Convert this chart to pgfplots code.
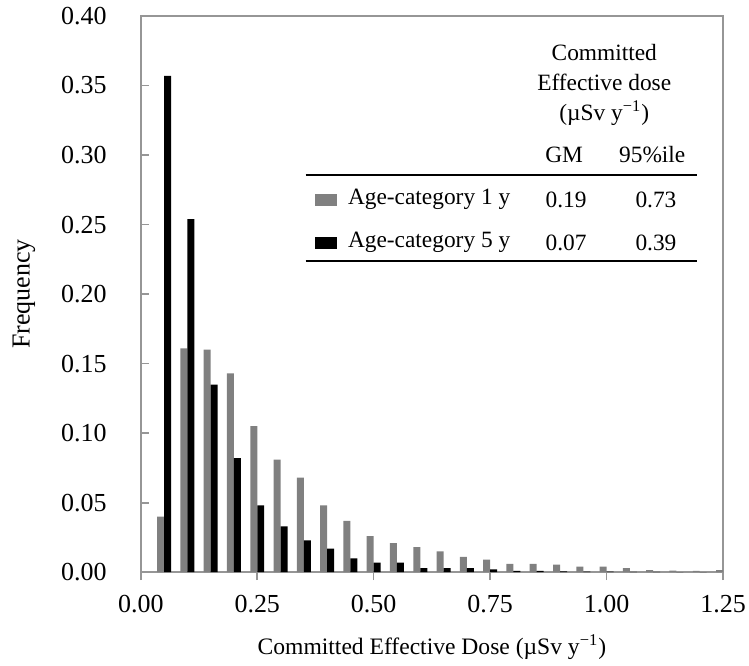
\documentclass[border=0pt]{standalone}
\usepackage{fontspec}
\setmainfont{Liberation Serif}
\usepackage{pgfplots}
\pgfplotsset{compat=1.18}
\definecolor{axgray}{RGB}{150,150,150}
\definecolor{bargray}{RGB}{128,128,128}
\begin{document}
\fontsize{11.7pt}{14pt}\selectfont
\begin{tikzpicture}
\begin{axis}[
  scale only axis,
  width=291.5pt, height=278.5pt,
  xmin=0, xmax=1.25, ymin=0, ymax=0.40,
  ybar=0pt, bar width=3.5pt,
  xtick={0,0.25,0.5,0.75,1.0,1.25},
  ytick={0,0.05,0.10,0.15,0.20,0.25,0.30,0.35,0.40},
  xtick pos=bottom, ytick pos=left,
  xtick align=outside, ytick align=inside,
  major tick length=4pt,
  axis line style={axgray, line width=0.8pt},
  every tick/.style={axgray, line width=0.8pt},
  /pgf/number format/assume math mode=true,
  /pgf/number format/fixed,
  /pgf/number format/fixed zerofill,
  /pgf/number format/precision=2,
  tick label style={font=\fontsize{13pt}{15pt}\selectfont},
  yticklabel style={xshift=-13pt},
  xticklabel style={yshift=-3.5pt},
  xlabel={Committed Effective Dose (µSv y\textsuperscript{−1})},
  ylabel={Frequency},
  xlabel style={yshift=-3pt, font=\fontsize{11.8pt}{14pt}\selectfont},
  ylabel style={yshift=5pt, font=\fontsize{13pt}{15pt}\selectfont},
  clip=true,
]
\addplot[fill=bargray, draw=none] coordinates {
(0.05,0.040) (0.10,0.161) (0.15,0.160) (0.20,0.143) (0.25,0.105)
(0.30,0.081) (0.35,0.068) (0.40,0.048) (0.45,0.037) (0.50,0.026)
(0.55,0.021) (0.60,0.018) (0.65,0.015) (0.70,0.011) (0.75,0.009)
(0.80,0.006) (0.85,0.006) (0.90,0.0055) (0.95,0.004) (1.00,0.004)
(1.05,0.003) (1.10,0.0015) (1.15,0.0012) (1.20,0.001) (1.25,0.0015)
};
\addplot[fill=black, draw=none] coordinates {
(0.05,0.357) (0.10,0.254) (0.15,0.135) (0.20,0.082) (0.25,0.048)
(0.30,0.033) (0.35,0.023) (0.40,0.017) (0.45,0.010) (0.50,0.007)
(0.55,0.007) (0.60,0.003) (0.65,0.003) (0.70,0.003) (0.75,0.002)
(0.80,0.001) (0.85,0.001) (0.90,0.0007) (0.95,0.0005) (1.00,0.0004)
(1.05,0.0003) (1.10,0.0002) (1.15,0.0001) (1.20,0.0001) (1.25,0.0001)
};
% table-style legend
\node at (axis cs:0.995,0.3734) {Committed};
\node at (axis cs:0.995,0.3519) {Effective dose};
\node at (axis cs:0.995,0.3303) {(µSv y\textsuperscript{−1})};
\node at (axis cs:0.909,0.3002) {GM};
\node at (axis cs:1.098,0.3002) {95\%ile};
\draw[black, line width=0.8pt] (axis cs:0.354,0.2858) -- (axis cs:1.194,0.2858);
\draw[black, line width=0.8pt] (axis cs:0.354,0.2240) -- (axis cs:1.194,0.2240);
\fill[bargray] (axis cs:0.375,0.2636) rectangle (axis cs:0.422,0.2722);
\fill[black] (axis cs:0.375,0.2327) rectangle (axis cs:0.422,0.2413);
\node[anchor=west, inner sep=0pt] at (axis cs:0.444,0.2679) {Age-category 1 y};
\node[anchor=west, inner sep=0pt] at (axis cs:0.444,0.2370) {Age-category 5 y};
\node at (axis cs:0.913,0.2679) {0.19};
\node at (axis cs:1.106,0.2679) {0.73};
\node at (axis cs:0.913,0.2370) {0.07};
\node at (axis cs:1.106,0.2370) {0.39};
\end{axis}
\pgfresetboundingbox
\path (-70.5pt,-46.5pt) rectangle (304.5pt,286.5pt);
\end{tikzpicture}
\end{document}
